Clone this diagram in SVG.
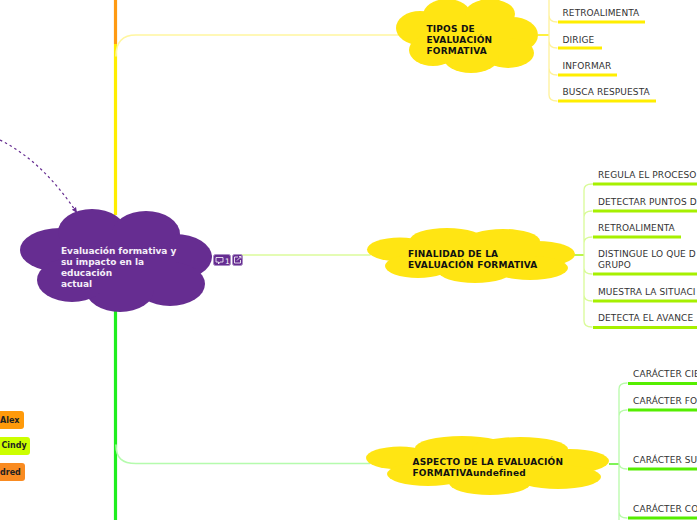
<svg xmlns="http://www.w3.org/2000/svg" width="697" height="520" viewBox="0 0 697 520">
<style>
text{font-family:"DejaVu Sans",Verdana,sans-serif}
.t{font-size:9px;fill:#333;letter-spacing:.1px}
.b{font-size:9px;font-weight:bold;fill:#111;letter-spacing:.18px}
.w{font-size:9px;font-weight:bold;fill:#f4eef8;letter-spacing:-.04px}
.n{font-size:8px;font-weight:bold;fill:#222}
.y{fill:#ffe513}
.p{fill:#662d91}
.f{fill:none;stroke-linecap:round}
.u{fill:none;stroke-width:3}
</style>
<defs><marker id="ah" markerUnits="userSpaceOnUse" markerWidth="7" markerHeight="7" refX="5.500" refY="3.500" orient="auto"><path d="M0 1L5.500 3.500L0 6z" fill="#662d91"/></marker></defs>
<rect width="697" height="520" fill="#fff"/>
<g id="connectors">
<path d="M115.500 0V44" stroke="#ff9a12" stroke-width="3.200" fill="none"/>
<path d="M115.500 44V215" stroke="#ffee00" stroke-width="3.200" fill="none"/>
<path d="M115.500 300V520" stroke="#1fee1f" stroke-width="3.200" fill="none"/>
<path class="f" d="M116 56C116 42 122 35 136 35H400" stroke="#fff6a0" stroke-width="1.500"/>
<path class="f" d="M240 255H370" stroke="#dcfb9c" stroke-width="1.500"/>
<path class="f" d="M116 445C116 458 122 463.500 136 463.500H370" stroke="#b5fbad" stroke-width="1.500"/>
<path d="M0 140C30 155 55 180 77 213" fill="none" stroke="#662d91" stroke-width="1.200" stroke-dasharray="2.500 3" marker-end="url(#ah)"/>
<path d="M538 35H549" stroke="#ffee00" stroke-width="1.500" fill="none"/>
<path class="f" d="M549 0V95Q549 101 557 101M549 68Q549 75 557 75M549 41Q549 48 557 48M549 15Q549 22 557 22" stroke="#fff29a" stroke-width="1.300"/>
<g class="u" stroke="#ffee00"><path d="M558 22H645M558 48H602M558 75H617M558 101H656"/></g>
<path d="M574 255H584" stroke="#a5f010" stroke-width="1.500" fill="none"/>
<path class="f" d="M584 190Q584 184 592 184H593M584 217Q584 211 592 211M584 243Q584 237 592 237M584 268Q584 274 592 274M584 295Q584 301 592 301M584 190V321Q584 327 592 327" stroke="#d9fb98" stroke-width="1.300"/>
<g class="u" stroke="#a6f000"><path d="M593 184H697M593 211H697M593 237H681M593 274H697M593 301H697M593 327.500H697"/></g>
<path d="M609 464H619" stroke="#55f020" stroke-width="1.500" fill="none"/>
<path class="f" d="M619 389Q619 383 627 383M619 416Q619 410 627 410M619 463Q619 469 627 469M619 512Q619 518 627 518M619 389V520" stroke="#b8fbaa" stroke-width="1.300"/>
<g class="u" stroke="#55ee00"><path d="M628 383.500H697M628 410H697M628 469H697M628 518H697"/></g>
</g>
<g id="root">
<g class="p"><ellipse cx="60" cy="250" rx="40" ry="22"/><ellipse cx="92" cy="232" rx="34" ry="23"/><ellipse cx="146" cy="234" rx="34" ry="23"/><ellipse cx="175" cy="257" rx="37" ry="23"/><ellipse cx="170" cy="284" rx="35" ry="22"/><ellipse cx="120" cy="290" rx="34" ry="22"/><ellipse cx="72" cy="280" rx="35" ry="22"/><rect x="60" y="230" width="115" height="60"/></g>
<text class="w" x="61" y="254">Evaluación formativa y</text>
<text class="w" x="61" y="265">su impacto en la</text>
<text class="w" x="61" y="276">educación</text>
<text class="w" x="61" y="287">actual</text>
</g>
<g id="badges">
<rect x="213.500" y="254.500" width="17" height="11" rx="2" fill="#662d91" stroke="#a98cc4"/>
<path d="M216 257.500H223V262H220L218.500 264V262H216z" fill="none" stroke="#fff" stroke-width="0.800"/>
<text x="225" y="263.500" font-size="7.500" fill="#fff">1</text>
<rect x="232.500" y="254.500" width="10" height="11" rx="2" fill="#662d91" stroke="#a98cc4"/>
<path d="M238 257H234.500V263H240.500V260M237 260.500L241 256.500M239 256.500H241V258.500" fill="none" stroke="#fff" stroke-width="0.800"/>
</g>
<g id="tipos">
<g class="y"><ellipse cx="420" cy="28" rx="24" ry="17"/><ellipse cx="447" cy="15" rx="24" ry="16"/><ellipse cx="490" cy="14" rx="25" ry="15"/><ellipse cx="512" cy="35" rx="26" ry="18"/><ellipse cx="508" cy="53" rx="26" ry="15"/><ellipse cx="471" cy="57" rx="28" ry="16"/><ellipse cx="433" cy="50" rx="24" ry="16"/><rect x="425" y="15" width="85" height="40"/></g>
<text class="b" x="426.500" y="32">TIPOS DE</text>
<text class="b" x="426.500" y="43">EVALUACIÓN</text>
<text class="b" x="426.500" y="54">FORMATIVA</text>
</g>
<g id="finalidad">
<g class="y"><ellipse cx="400" cy="249.500" rx="33" ry="12"/><ellipse cx="447" cy="240" rx="37" ry="12"/><ellipse cx="503" cy="241" rx="37" ry="12"/><ellipse cx="537" cy="254" rx="38" ry="13"/><ellipse cx="530" cy="268" rx="38" ry="12"/><ellipse cx="475" cy="271" rx="37" ry="12"/><ellipse cx="418" cy="266" rx="33" ry="12"/><rect x="410" y="240" width="125" height="30"/></g>
<text class="b" x="408" y="257">FINALIDAD DE LA</text>
<text class="b" x="408" y="268">EVALUACIÓN FORMATIVA</text>
</g>
<g id="aspecto">
<g class="y"><ellipse cx="400" cy="458" rx="34" ry="11.500"/><ellipse cx="462" cy="448" rx="47" ry="12"/><ellipse cx="520" cy="449" rx="48" ry="12"/><ellipse cx="570" cy="461" rx="39" ry="12"/><ellipse cx="558" cy="477" rx="43" ry="12"/><ellipse cx="490" cy="483" rx="41" ry="12"/><ellipse cx="428" cy="474" rx="41" ry="12"/><rect x="410" y="450" width="155" height="30"/></g>
<text class="b" x="412.500" y="465">ASPECTO DE LA EVALUACIÓN</text>
<text class="b" x="412.500" y="476">FORMATIVAundefined</text>
</g>
<g id="t1"><text class="t" x="562.500" y="16">RETROALIMENTA</text></g>
<g id="t2"><text class="t" x="562.500" y="42.500">DIRIGE</text></g>
<g id="t3"><text class="t" x="562.500" y="69">INFORMAR</text></g>
<g id="t4"><text class="t" x="562.500" y="95">BUSCA RESPUESTA</text></g>
<g id="f1"><text class="t" x="598" y="178">REGULA EL PROCESO</text></g>
<g id="f2"><text class="t" x="598" y="204.500">DETECTAR PUNTOS D</text></g>
<g id="f3"><text class="t" x="598" y="231">RETROALIMENTA</text></g>
<g id="f4"><text class="t" x="598" y="257">DISTINGUE LO QUE D</text><text class="t" x="598" y="268">GRUPO</text></g>
<g id="f5"><text class="t" x="598" y="295">MUESTRA LA SITUACI</text></g>
<g id="f6"><text class="t" x="598" y="321">DETECTA EL AVANCE</text></g>
<g id="a1"><text class="t" x="633" y="377">CARÁCTER CIE</text></g>
<g id="a2"><text class="t" x="633" y="404">CARÁCTER FO</text></g>
<g id="a3"><text class="t" x="633" y="463">CARÁCTER SU</text></g>
<g id="a4"><text class="t" x="633" y="512">CARÁCTER CO</text></g>
<g id="alex"><rect x="-6" y="411" width="30" height="18" rx="3" fill="#ff9a0a"/><text class="n" x="0" y="423">Alex</text></g>
<g id="cindy"><rect x="-6" y="437" width="36" height="18" rx="3" fill="#ccff00"/><text class="n" x="1.500" y="448">Cindy</text></g>
<g id="mildred"><rect x="-6" y="463" width="31" height="18" rx="3" fill="#f98b21"/><text class="n" x="0" y="475">dred</text></g>
</svg>
